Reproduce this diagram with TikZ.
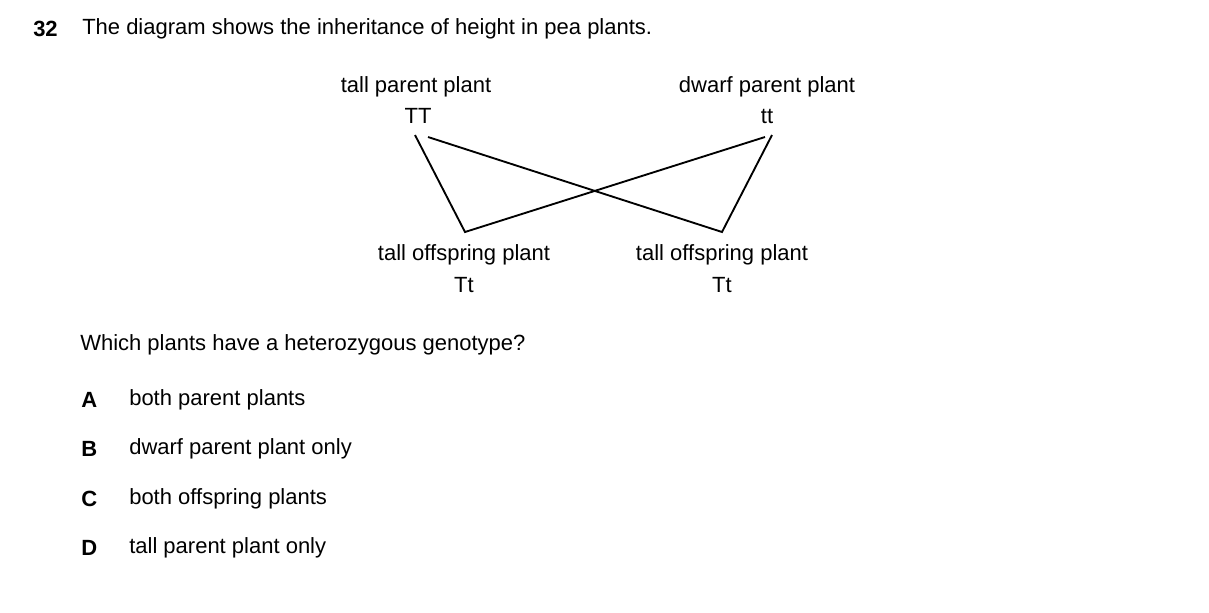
\documentclass[tikz,border=0pt]{standalone}
\usepackage{fontspec}
\setmainfont{Liberation Sans}
\begin{document}
\begin{tikzpicture}[x=0.75pt,y=-0.75pt,
  txt/.style={inner sep=0pt,font=\fontsize{16.5pt}{19pt}\selectfont},
  lt/.style={txt,anchor=west},
  ln/.style={line width=1.4pt,black}]
\useasboundingbox (0,0) rectangle (1209,612);
\node[lt,font=\fontsize{16.5pt}{19pt}\selectfont\bfseries] (num) at (33,29) {32};
\node[lt] (title) at (82,29) {The diagram shows the inheritance of height in pea plants.};
\node[txt] (tp) at (416,87) {tall parent plant};
\node[txt] (TT) at (418,116) {TT};
\node[txt] (dp) at (767,87) {dwarf parent plant};
\node[txt] (tt) at (767,116) {tt};
\node[txt] (o1) at (464,255) {tall offspring plant};
\node[txt] (g1) at (464,285) {Tt};
\node[txt] (o2) at (722,255) {tall offspring plant};
\node[txt] (g2) at (722,285) {Tt};
\coordinate (a1) at (415,135);
\coordinate (a2) at (428,137);
\coordinate (b1) at (772,135);
\coordinate (b2) at (765,137);
\coordinate (c1) at (465,232);
\coordinate (c2) at (722,232);
\draw[ln] (a1) -- (c1) -- (b2);
\draw[ln] (a2) -- (c2) -- (b1);
\node[lt] (q) at (80,345) {Which plants have a heterozygous genotype?};
\foreach \l/\t/\y in {A/both parent plants/400,B/dwarf parent plant only/449,C/both offspring plants/499,D/tall parent plant only/548}{
  \node[lt,font=\fontsize{16.5pt}{19pt}\selectfont\bfseries] (L\l) at (81,\y) {\l};
  \node[lt] (T\l) at (129,\y) {\t};
}
\end{tikzpicture}
\end{document}
